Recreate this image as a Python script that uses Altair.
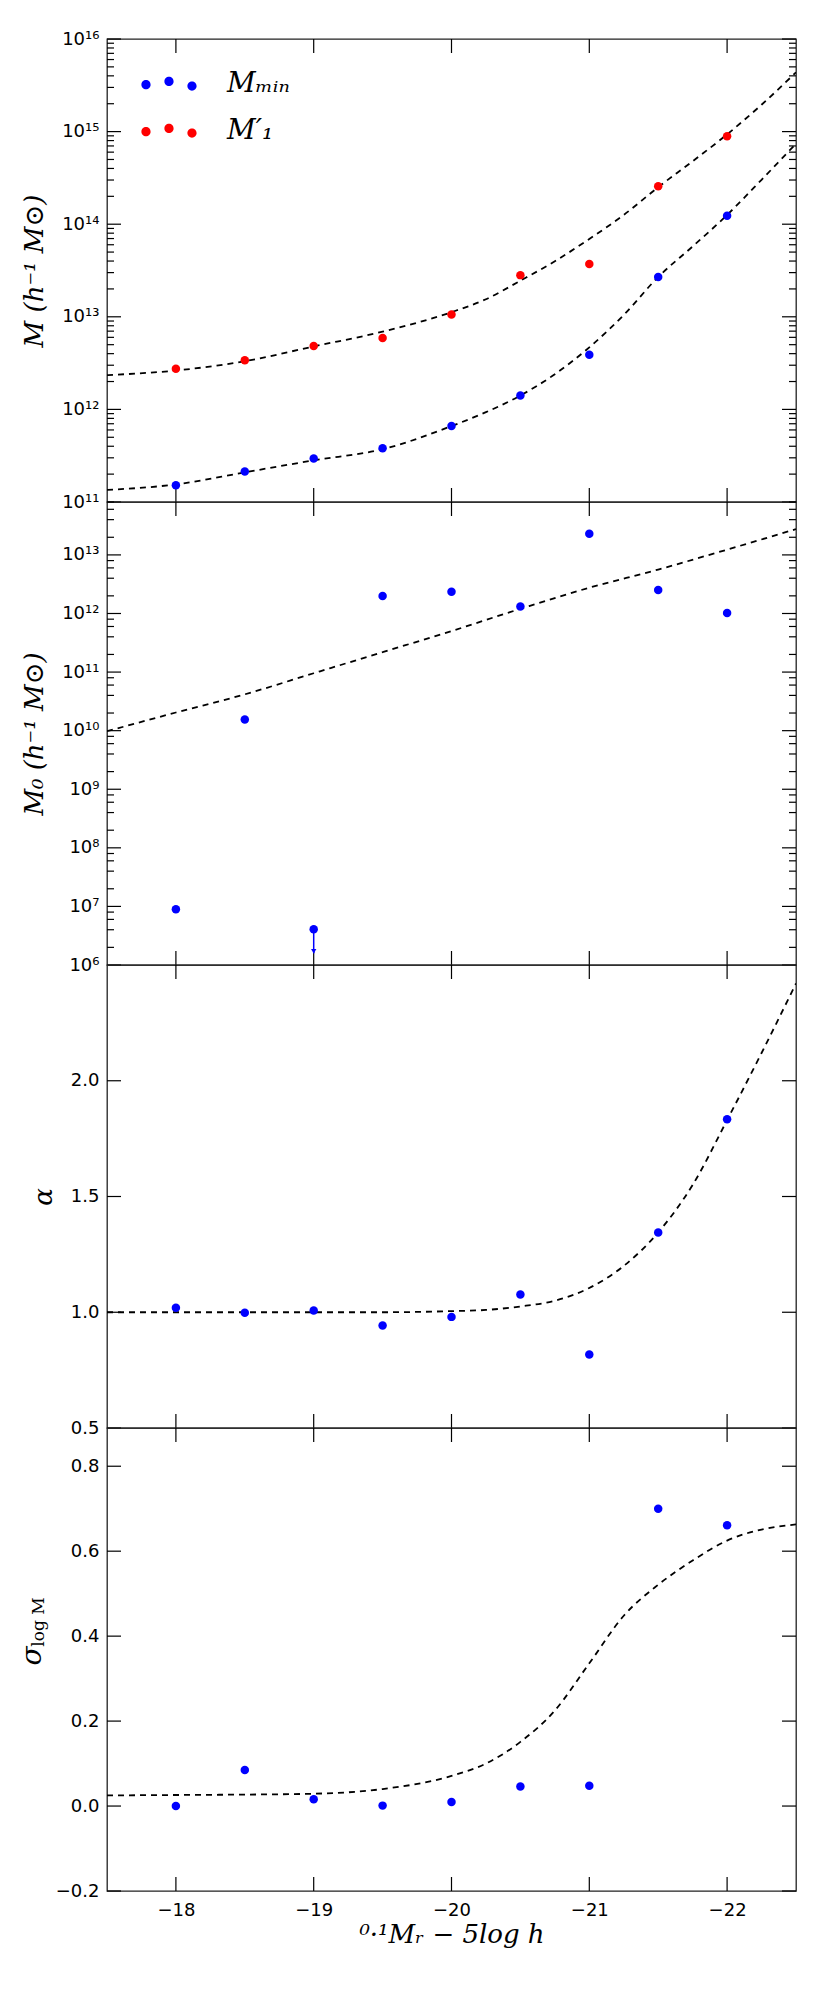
import altair as alt
import pandas as pd

# ---------------- data ----------------
MAG = [-18.0, -18.5, -19.0, -19.5, -20.0, -20.5, -21.0, -21.5, -22.0]
LOG_MMIN = [11.18, 11.33, 11.47, 11.58, 11.82, 12.15, 12.59, 13.43, 14.09]
LOG_M1P = [12.44, 12.53, 12.685, 12.77, 13.025, 13.45, 13.57, 14.41, 14.95]
LOG_M0 = [6.95, 10.19, 6.61, 12.30, 12.37, 12.12, 13.36, 12.40, 12.01]
ALPHA = [1.019, 0.998, 1.008, 0.943, 0.980, 1.077, 0.818, 1.345, 1.834]
SIGMA = [0.0, 0.085, 0.016, 0.001, 0.0095, 0.046, 0.048, 0.700, 0.661]

# upper limit arrow on M0 at -19
LIM_MAG = [-19.0]
LIM_FROM = [6.61]
LIM_TO = [6.20]
LIM_HEAD = [6.235]

# dashed model curves
FIT_X = [-17.5, -18.0, -18.5, -19.0, -19.5, -20.0, -20.25, -20.5, -20.75,
         -21.0, -21.25, -21.5, -21.75, -22.0, -22.25, -22.5]
FIT_MMIN = [11.13, 11.19, 11.32, 11.45, 11.57, 11.82, 11.97, 12.15, 12.38,
            12.67, 13.02, 13.43, 13.76, 14.10, 14.48, 14.87]
FIT_M1P = [12.37, 12.42, 12.52, 12.68, 12.84, 13.05, 13.19, 13.39, 13.60,
           13.84, 14.10, 14.40, 14.68, 14.97, 15.29, 15.64]
FIT_ALPHA = [1.0, 1.0, 1.0, 1.0, 1.0, 1.005, 1.01, 1.025, 1.05,
             1.105, 1.20, 1.345, 1.55, 1.83, 2.12, 2.42]
FIT_SIGMA = [0.025, 0.026, 0.027, 0.029, 0.040, 0.071, 0.10, 0.151, 0.225,
             0.336, 0.448, 0.521, 0.578, 0.625, 0.651, 0.663]
FIT_X_M0 = [-17.5, -18.0, -18.5, -19.0, -19.5, -20.0, -20.5, -21.0, -21.5, -22.0, -22.5]
FIT_M0 = [9.99, 10.31, 10.62, 10.98, 11.34, 11.70, 12.08, 12.44, 12.75, 13.09, 13.44]

SERIES = ["M\u2098\u1d62\u2099", "M\u2032\u2081"]
COLORS = ["#0000ff", "#ff0000"]

X_TICKS = [-18, -19, -20, -21, -22]
P1_MAJ = [1e11, 1e12, 1e13, 1e14, 1e15, 1e16]
P1_MIN = [m * 10.0 ** e for e in range(11, 16) for m in range(2, 10)]
P2_MAJ = [1e6, 1e7, 1e8, 1e9, 1e10, 1e11, 1e12, 1e13]
P2_MIN = [m * 10.0 ** e for e in range(6, 14) for m in (2, 4, 6, 8)]
P3_MAJ = [0.5, 1.0, 1.5, 2.0]
P4_MAJ = [-0.2, 0.0, 0.2, 0.4, 0.6, 0.8]

# ---------------- styling ----------------
W, H = 689, 463
TMAJ, TMIN = 14, 7
FONT = "DejaVu Sans"
SERIF = "DejaVu Serif"
LBL = 18
XSCALE = alt.Scale(domain=[-22.5, -17.5], reverse=True, nice=False, zero=False)
DASH = [6, 5]

SUP = "['\u2070','\u00b9','\u00b2','\u00b3','\u2074','\u2075','\u2076','\u2077','\u2078','\u2079','\u00b9\u2070','\u00b9\u00b9','\u00b9\u00b2','\u00b9\u00b3','\u00b9\u2074','\u00b9\u2075','\u00b9\u2076']"
LOG_LABEL = "'10' + " + SUP + "[round(log(datum.value)/LN10)]"


def circ(cx, cy, r=0.2):
    return f"M{cx - r},{cy}a{r},{r} 0 1,0 {2 * r},0a{r},{r} 0 1,0 {-2 * r},0Z"


LEGEND_PATH = circ(-1, 0.03) + circ(0, -0.11) + circ(1, 0.09)


def yaxis(values, title=None, log=False, fmt=".1f"):
    kw = dict(values=values, ticks=False, domain=False, grid=False,
              labelFont=FONT, labelFontSize=LBL, labelColor="black", labelPadding=8,
              labelOverlap=False, labelFlush=False)
    if log:
        kw["labelExpr"] = LOG_LABEL
    else:
        kw["format"] = fmt
    if title is not None:
        kw.update(title=title, titleFont=SERIF, titleFontSize=26, titleFontWeight="normal",
                  titleFontStyle="italic", titleColor="black", titlePadding=14)
    else:
        kw["title"] = None
    return alt.Axis(**kw)


XAXIS_BOTTOM = alt.Axis(values=X_TICKS, format="d", ticks=False, domain=False,
                        grid=False, labelFont=FONT, labelFontSize=LBL, labelColor="black",
                        labelPadding=10, labelFlush=False, labelOverlap=False,
                        title="\u2070\u00b7\u00b9M\u1d63 \u2212 5log h", titleFont=SERIF,
                        titleFontSize=26, titleFontWeight="normal", titleFontStyle="italic",
                        titleColor="black", titlePadding=2)


def make_panel(yscale, yax, majors, minors, curves, points, extra=(), xax=None):
    """All layers with an x or y field get the same axis objects."""
    def X(field):
        return alt.X(field, scale=XSCALE, axis=xax)

    def Y(field):
        return alt.Y(field, scale=yscale, axis=yax)

    layers = []
    rule = dict(color="black", strokeWidth=1.2)
    xt = pd.DataFrame({"x": X_TICKS})
    layers.append(alt.Chart(xt).mark_rule(**rule).encode(x=X("x:Q"), y=alt.value(0), y2=alt.value(TMAJ)))
    layers.append(alt.Chart(xt).mark_rule(**rule).encode(x=X("x:Q"), y=alt.value(H - TMAJ), y2=alt.value(H)))
    for vals, ln in ((majors, TMAJ), (minors, TMIN)):
        if not vals:
            continue
        d = pd.DataFrame({"v": vals})
        layers.append(alt.Chart(d).mark_rule(**rule).encode(y=Y("v:Q"), x=alt.value(0), x2=alt.value(ln)))
        layers.append(alt.Chart(d).mark_rule(**rule).encode(y=Y("v:Q"), x=alt.value(W - ln), x2=alt.value(W)))
    for xs, ys in curves:
        d = pd.DataFrame({"mag": xs, "y": ys})
        layers.append(alt.Chart(d).mark_line(color="black", strokeDash=DASH, strokeWidth=1.8,
                                             interpolate="monotone", clip=True).encode(
            x=X("mag:Q"), y=Y("y:Q")))
    for kind, df, yfield, props, enc in points:
        if kind == "circle":
            m = alt.Chart(df).mark_circle(**props)
        elif kind == "rule":
            m = alt.Chart(df).mark_rule(**props)
        else:
            m = alt.Chart(df).mark_point(**props)
        layers.append(m.encode(x=X("mag:Q"), y=Y(yfield), **enc))
    layers.extend(extra)
    return alt.layer(*layers).properties(width=W, height=H)


PT = dict(size=72, opacity=1)

# ---------------- panel 1 ----------------
S1 = alt.Scale(type="log", domain=[1e11, 1e16], nice=False)
d1 = pd.DataFrame({
    "mag": MAG * 2,
    "mass": [10 ** v for v in LOG_MMIN] + [10 ** v for v in LOG_M1P],
    "series": [SERIES[0]] * len(MAG) + [SERIES[1]] * len(MAG),
})
color1 = alt.Color("series:N", scale=alt.Scale(domain=SERIES, range=COLORS),
                   legend=alt.Legend(title=None, orient="none", legendX=39, legendY=22,
                                     symbolType=LEGEND_PATH, symbolSize=2116,
                                     symbolStrokeWidth=0, symbolOpacity=1,
                                     labelFont=SERIF, labelFontSize=28, labelFontStyle="italic",
                                     labelColor="black", labelOffset=35, rowPadding=10,
                                     padding=0))
p1 = make_panel(
    S1, yaxis(P1_MAJ, "M (h\u207b\u00b9 M\u2299)", log=True), P1_MAJ, P1_MIN,
    [(FIT_X, [10 ** v for v in FIT_M1P]), (FIT_X, [10 ** v for v in FIT_MMIN])],
    [("circle", d1, "mass:Q", PT, {"color": color1})],
)

# ---------------- panel 2 ----------------
S2 = alt.Scale(type="log", domain=[1e6, 8e13], nice=False)
d2 = pd.DataFrame({"mag": MAG, "m0": [10 ** v for v in LOG_M0]})
dl = pd.DataFrame({"mag": LIM_MAG, "a": [10 ** v for v in LIM_FROM],
                   "b": [10 ** v for v in LIM_TO], "h": [10 ** v for v in LIM_HEAD]})
p2 = make_panel(
    S2, yaxis(P2_MAJ, "M\u2080 (h\u207b\u00b9 M\u2299)", log=True), P2_MAJ, P2_MIN,
    [(FIT_X_M0, [10 ** v for v in FIT_M0])],
    [("rule", dl, "a:Q", dict(color="#0000ff", strokeWidth=1.5), {"y2": "b:Q"}),
     ("point", dl, "h:Q", dict(shape="triangle-down", filled=True, color="#0000ff",
                               size=28, opacity=1), {}),
     ("circle", d2, "m0:Q", dict(color="#0000ff", **PT), {})],
)

# ---------------- panel 3 ----------------
S3 = alt.Scale(domain=[0.5, 2.5], nice=False, zero=False)
d3 = pd.DataFrame({"mag": MAG, "alpha": ALPHA})
p3 = make_panel(
    S3, yaxis(P3_MAJ, "\u03b1"), P3_MAJ, [],
    [(FIT_X, FIT_ALPHA)],
    [("circle", d3, "alpha:Q", dict(color="#0000ff", **PT), {})],
)

# ---------------- panel 4 ----------------
S4 = alt.Scale(domain=[-0.2, 0.89], nice=False, zero=False)
d4 = pd.DataFrame({"mag": MAG, "sigma": SIGMA})
sig_main = alt.Chart(pd.DataFrame({"t": ["\u03c3"]})).mark_text(
    angle=270, font=SERIF, fontSize=28, fontStyle="italic", color="black",
    align="center", baseline="middle").encode(text="t:N", x=alt.value(-74), y=alt.value(228))
sig_sub = alt.Chart(pd.DataFrame({"t": ["log M"]})).mark_text(
    angle=270, font=SERIF, fontSize=17, color="black",
    align="center", baseline="middle").encode(text="t:N", x=alt.value(-68), y=alt.value(194))
p4 = make_panel(
    S4, yaxis(P4_MAJ, None), P4_MAJ, [],
    [(FIT_X, FIT_SIGMA)],
    [("circle", d4, "sigma:Q", dict(color="#0000ff", **PT), {})],
    extra=(sig_main, sig_sub), xax=XAXIS_BOTTOM,
)

chart = alt.vconcat(p1, p2, p3, p4, spacing=0, bounds="flush").resolve_scale(
    color="independent").properties(
    padding={"left": 10, "top": 21, "right": 10, "bottom": 10}
).configure_view(stroke="#222222", strokeWidth=1.3)

chart.save("out.html", embed_options={"renderer": "svg", "actions": False})
